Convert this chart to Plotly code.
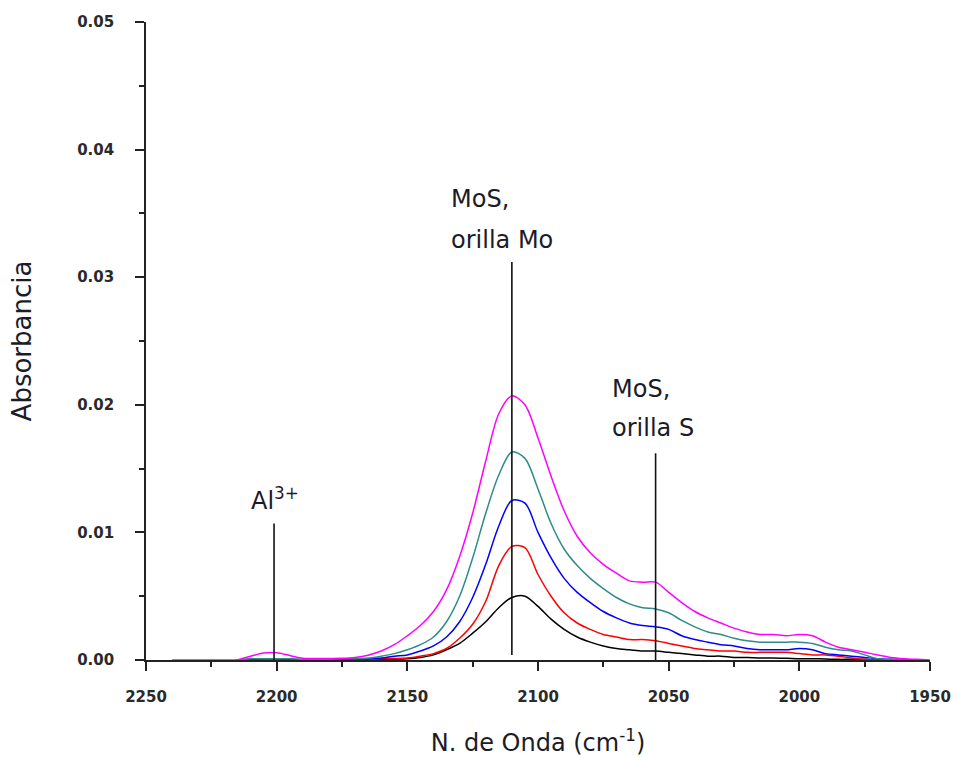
import plotly.graph_objects as go

# ---- data ----
wavenumber = [2240, 2235, 2230, 2225, 2220, 2215, 2210, 2205, 2200, 2195, 2190, 2185, 2180, 2175, 2170,
              2165, 2160, 2155, 2150, 2145, 2140, 2135, 2130, 2125, 2120, 2115, 2110, 2105, 2100,
              2095, 2090, 2085, 2080, 2075, 2070, 2065, 2060, 2055, 2050, 2045, 2040, 2035, 2030,
              2025, 2020, 2015, 2010, 2005, 2000, 1995, 1990, 1985, 1980, 1975, 1970, 1965, 1960,
              1955, 1950]

magenta = [0, 0, 0, 0, 0, 0.00003, 0.0003, 0.00055, 0.00057, 0.00035, 0.00013, 0.00012, 0.00012, 0.00013, 0.0002,
           0.00038, 0.0007, 0.0012, 0.0019, 0.0027, 0.0038, 0.0055, 0.0081, 0.0115, 0.0156, 0.0193, 0.0207, 0.0200, 0.0174,
           0.0144, 0.0117, 0.0097, 0.0084, 0.0075, 0.0068, 0.0062, 0.0061, 0.0061, 0.0053, 0.0045, 0.0038, 0.0033, 0.0029,
           0.0025, 0.0022, 0.0020, 0.0020, 0.0019, 0.0020, 0.0019, 0.0014, 0.0010, 0.0008, 0.0006, 0.0004, 0.0002, 0.0001,
           0.00005, 0]

teal = [None, None, None, None, None, 0, 0.0001, 0.0001, 0.0001, 0.0001, 0.00005, 0.00005, 0.00005, 0.0001, 0.0001,
        0.00015, 0.0003, 0.0005, 0.0008, 0.0012, 0.0018, 0.0030, 0.0050, 0.0080, 0.0115, 0.0145, 0.0163, 0.0158, 0.0134,
        0.0107, 0.0087, 0.0074, 0.0064, 0.0056, 0.0049, 0.0044, 0.0041, 0.0040, 0.0037, 0.0031, 0.0026, 0.0022, 0.0020,
        0.0017, 0.0015, 0.0014, 0.0014, 0.0014, 0.0014, 0.0013, 0.0010, 0.0008, 0.0007, 0.0004, 0.0001, 0.00005, 0,
        0, None]

blue = [None, None, None, None, None, 0, 0.00005, 0.0001, 0.0001, 0.00005, 0, 0, 0, 0, 0.00005,
        0.0001, 0.00015, 0.0003, 0.0004, 0.0007, 0.0011, 0.0018, 0.0030, 0.0049, 0.0075, 0.0105, 0.0125, 0.0123, 0.0100,
        0.0080, 0.0064, 0.0053, 0.0045, 0.0038, 0.0033, 0.0029, 0.0027, 0.0026, 0.0024, 0.0019, 0.0016, 0.0014, 0.0012,
        0.0011, 0.0009, 0.0008, 0.0008, 0.0008, 0.0009, 0.0008, 0.0005, 0.0004, 0.0003, 0.0002, 0.0001, 0.00005, 0,
        0, None]

red = [None, None, None, None, None, 0, 0, 0, 0, 0, 0, 0, 0, 0, 0,
       0.00005, 0.0001, 0.00012, 0.00015, 0.0003, 0.0005, 0.0009, 0.0017, 0.0028, 0.0046, 0.0074, 0.0089, 0.0088, 0.0067,
       0.0050, 0.0037, 0.0029, 0.0024, 0.0020, 0.0018, 0.0016, 0.0016, 0.0015, 0.0013, 0.0011, 0.0009, 0.0008, 0.0007,
       0.0007, 0.0006, 0.0006, 0.0006, 0.0006, 0.0005, 0.0004, 0.0004, 0.0003, 0.00015, 0.00005, 0, 0, 0,
       0, None]

black = [None, None, None, None, None, 0, 0, 0, 0, 0, 0, 0, 0, 0, 0,
         0, 0.00003, 0.00005, 0.0001, 0.0002, 0.0004, 0.0008, 0.0013, 0.0021, 0.0030, 0.0041, 0.0049, 0.0050, 0.0042,
         0.0032, 0.0024, 0.0018, 0.0014, 0.0011, 0.0009, 0.0008, 0.0007, 0.0007, 0.0006, 0.0005, 0.0004, 0.0003, 0.0003,
         0.0002, 0.0002, 0.00015, 0.00015, 0.00013, 0.0001, 0.0001, 0.00008, 0.00005, 0.00005, 0.00003, 0, 0, 0,
         0, None]

series_names = ["black", "red", "blue", "teal", "magenta"]
series_colors = ["#000000", "#FF0000", "#0000FF", "#2E8B8B", "#FF00FF"]
series_values = [black, red, blue, teal, magenta]

# band markers: position, bottom, top
band_pos = [2201, 2110, 2055]
band_bottom = [0.0, 0.0004, 0.0]
band_top = [0.0107, 0.0312, 0.0162]

# labels
label_text = ["Al<sup>3+</sup>", "MoS,", "orilla Mo", "MoS,", "orilla S"]
label_x = [2200.6, 2134, 2134, 2072.5, 2072.5]
label_y = [0.0126, 0.0361, 0.0329, 0.0212, 0.0182]
label_anchor = ["center", "left", "left", "left", "left"]

FONT = "DejaVu Sans, Liberation Sans, Arial, sans-serif"
TXT = "#1c1c28"

fig = go.Figure()
for name, col, vals in zip(series_names, series_colors, series_values):
    fig.add_trace(go.Scatter(x=wavenumber, y=vals, mode="lines", name=name,
                             line=dict(color=col, width=1.5, shape="spline", smoothing=0.9),
                             connectgaps=False, showlegend=False))

for xp, y0, y1 in zip(band_pos, band_bottom, band_top):
    fig.add_shape(type="line", xref="x", yref="y", x0=xp, x1=xp, y0=y0, y1=y1,
                  line=dict(color="#111111", width=1.6))

for t, xx, yy, anc in zip(label_text, label_x, label_y, label_anchor):
    fig.add_annotation(x=xx, y=yy, xref="x", yref="y", text=t, showarrow=False,
                       xanchor=anc, yanchor="middle",
                       font=dict(family=FONT, size=24, color=TXT))

tickfont = dict(family=FONT, size=15, color="#2a2a2a", weight="bold")

fig.update_layout(
    width=956, height=757,
    margin=dict(l=146, r=26, t=22, b=97),
    paper_bgcolor="white", plot_bgcolor="white",
    showlegend=False,
    xaxis=dict(range=[2250, 1950], autorange=False, tick0=1950, dtick=50, automargin=False,
               showgrid=False, zeroline=False, showline=True, linecolor="#222222", linewidth=1.6,
               ticks="outside", ticklen=9, tickwidth=1.6, tickcolor="#222222",
               ticklabelstandoff=13, tickfont=tickfont,
               minor=dict(dtick=25, ticks="outside", ticklen=5, tickwidth=1.6, tickcolor="#222222"),
               title=dict(text="N. de Onda (cm<sup>-1</sup>)", standoff=31,
                          font=dict(family=FONT, size=24, color=TXT))),
    yaxis=dict(range=[0, 0.05], autorange=False, dtick=0.01, tickformat=".2f", automargin=False,
               showgrid=False, zeroline=False, showline=True, linecolor="#222222", linewidth=1.6,
               ticks="outside", ticklen=9, tickwidth=1.6, tickcolor="#222222",
               ticklabelstandoff=18, tickfont=tickfont,
               minor=dict(dtick=0.005, ticks="outside", ticklen=5, tickwidth=1.6, tickcolor="#222222"),
               title=dict(text="Absorbancia", standoff=38,
                          font=dict(family=FONT, size=26, color=TXT))),
)

fig.write_html("out.html")
